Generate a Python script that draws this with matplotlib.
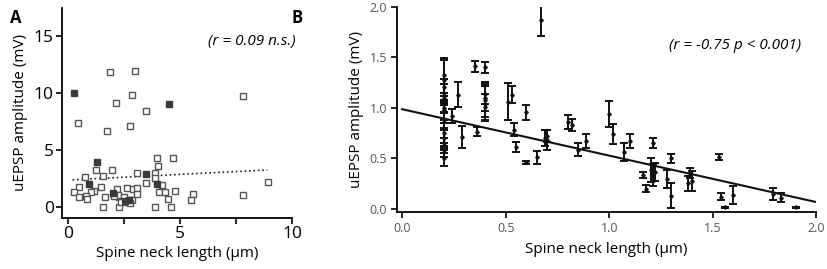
import numpy as np
import matplotlib
matplotlib.use("Agg")
import matplotlib.pyplot as plt

plt.rcParams['font.family'] = ['Open Sans', 'DejaVu Sans']

# panel A: open squares
a_open_x = [1.86, 2.99, 2.87, 2.16, 7.83, 3.5, 0.45, 2.77, 1.76, 3.99, 4.67, 4.03,
            1.25, 1.98, 3.07, 1.55, 0.74, 3.9, 3.87, 3.48, 4.2, 1.46, 0.48, 2.17,
            2.62, 2.92, 3.07, 1.16, 1.04, 0.25, 4.06, 4.35, 4.79, 5.6, 7.83, 8.93,
            0.8, 0.83, 0.48, 1.64, 2.29, 3.07, 2.23, 2.5, 2.74, 2.87, 4.48, 5.48,
            1.56, 2.26, 3.87, 4.58, 2.38, 2.63, 2.77, 2.05]
a_open_y = [11.85, 11.97, 9.82, 9.15, 9.7, 8.44, 7.32, 7.12, 6.62, 4.24, 4.24, 3.53,
            3.18, 3.18, 2.91, 2.7, 2.62, 2.94, 2.5, 2.09, 1.88, 1.76, 1.68, 1.53,
            1.62, 1.56, 1.62, 1.38, 1.24, 1.24, 1.24, 1.24, 1.38, 1.09, 1.0, 2.18,
            0.94, 0.65, 0.8, 0.88, 0.88, 1.12, 1.03, 0.88, 0.59, 0.59, 0.68, 0.59,
            0.0, 0.0, 0.0, 0.0, 0.44, 0.38, 0.29, 0.94]
# panel A: filled squares
a_fill_x = [0.27, 4.51, 1.28, 0.95, 3.48, 3.99, 1.99, 2.55, 2.7]
a_fill_y = [10.0, 9.0, 3.9, 2.0, 2.9, 2.0, 1.18, 0.5, 0.55]
a_fit = (2.33, 0.10)        # intercept, slope
a_fit_range = (0.2, 8.9)
a_text = "(r = 0.09 n.s.)"

# panel B: mean +- error
b_x = [0.2, 0.2, 0.2, 0.2, 0.2, 0.2, 0.2, 0.2, 0.2, 0.2, 0.2, 0.2, 0.2, 0.2,
       0.24, 0.27, 0.29, 0.35, 0.36, 0.4,
       0.4, 0.4, 0.4, 0.4, 0.4,
       0.51, 0.53, 0.6, 0.54, 0.55, 0.6, 0.65, 0.67,
       0.69, 0.7, 0.7, 0.8, 0.82, 0.85, 0.89, 1.0, 1.02, 1.07, 1.1,
       1.21, 1.165, 1.18, 1.2, 1.21, 1.22, 1.3, 1.28, 1.3,
       1.39, 1.38, 1.4, 1.53, 1.54, 1.56, 1.6, 1.79, 1.83, 1.9]
b_y = [1.32, 1.27, 1.2, 1.13, 1.1, 1.0, 0.98, 0.88, 0.75, 0.7, 0.65, 0.6, 0.56, 0.5,
       0.92, 1.13, 0.71, 1.41, 0.76, 1.4,
       1.14, 1.1, 1.08, 1.04, 1.01,
       1.06, 1.13, 0.955, 0.78, 0.615, 0.46, 0.51, 1.87,
       0.7, 0.72, 0.68, 0.86, 0.83, 0.585, 0.67, 0.94, 0.74, 0.565, 0.67,
       0.65, 0.33, 0.195, 0.38, 0.33, 0.36, 0.5, 0.295, 0.13,
       0.35, 0.25, 0.27, 0.51, 0.12, 0.013, 0.135, 0.143, 0.11, 0.013]
b_err = [0.17, 0.2, 0.08, 0.1, 0.05, 0.05, 0.1, 0.08, 0.1, 0.08, 0.05, 0.05, 0.05, 0.08,
         0.07, 0.12, 0.11, 0.055, 0.045, 0.055,
         0.1, 0.13, 0.17, 0.17, 0.13,
         0.18, 0.08, 0.075, 0.065, 0.05, 0.016, 0.065, 0.16,
         0.08, 0.06, 0.1, 0.07, 0.06, 0.065, 0.07, 0.13, 0.1, 0.09, 0.065,
         0.05, 0.03, 0.035, 0.12, 0.11, 0.09, 0.045, 0.09, 0.12,
         0.05, 0.075, 0.1, 0.033, 0.036, 0.004, 0.085, 0.06, 0.04, 0.004]
b_fit = (0.985, -0.46)
b_fit_range = (0.0, 2.0)
b_text = "(r = -0.75 p < 0.001)"

fig = plt.figure(figsize=(8.27, 2.69), dpi=100)
axA = fig.add_axes([0.075, 0.19, 0.278, 0.781])
axB = fig.add_axes([0.48, 0.212, 0.507, 0.763])

for ax in (axA, axB):
    ax.spines['top'].set_visible(False)
    ax.spines['right'].set_visible(False)
    for s in ('left', 'bottom'):
        ax.spines[s].set_linewidth(1.3)
    ax.tick_params(direction='out', length=4, width=1.2)

# ---- A ----
axA.plot(a_open_x, a_open_y, 's', ms=5.0, mfc='white', mec='#555555', mew=1.0,
         linestyle='none', zorder=3)
axA.plot(a_fill_x, a_fill_y, 's', ms=5.0, mfc='#3a3a3a', mec='#3a3a3a', mew=1.0,
         linestyle='none', zorder=4)
xa = np.array(a_fit_range)
axA.plot(xa, a_fit[0] + a_fit[1] * xa, ':', color='#222222', lw=1.2, zorder=2)
axA.set_xlim(-0.27, 10)
axA.set_ylim(-1.0, 17.5)
axA.set_xticks([0, 5, 10])
axA.set_xticks([2.5, 7.5], minor=True)
axA.set_yticks([0, 5, 10, 15])
axA.tick_params(which='minor', direction='out', length=4, width=1.2)
axA.tick_params(labelsize=12.5, pad=2)
axA.set_xlabel("Spine neck length (\u03bcm)", fontsize=11, labelpad=3)
axA.set_ylabel("uEPSP amplitude (mV)", fontsize=11, labelpad=4)
axA.text(1.015, 0.84, a_text, transform=axA.transAxes, ha='right', va='center',
         fontsize=11, style='italic')

# ---- B ----
axB.errorbar(b_x, b_y, yerr=b_err, fmt='D', ms=1.8, color='#111111', ecolor='#111111',
             elinewidth=1.4, capsize=3.2, capthick=1.4, zorder=3)
xb = np.array(b_fit_range)
axB.plot(xb, b_fit[0] + b_fit[1] * xb, '-', color='#111111', lw=1.5, zorder=2)
axB.set_xlim(-0.025, 2.0)
axB.set_ylim(-0.033, 2.0)
axB.set_xticks([0, 0.5, 1.0, 1.5, 2.0])
axB.set_yticks([0, 0.5, 1.0, 1.5, 2.0])
axB.xaxis.set_major_formatter(matplotlib.ticker.FormatStrFormatter('%.1f'))
axB.yaxis.set_major_formatter(matplotlib.ticker.FormatStrFormatter('%.1f'))
axB.tick_params(labelsize=9, labelcolor='#555555', pad=3)
axB.set_xlabel("Spine neck length (\u03bcm)", fontsize=11, labelpad=5)
axB.set_ylabel("uEPSP amplitude (mV)", fontsize=11, labelpad=4)
axB.text(0.965, 0.81, b_text, transform=axB.transAxes, ha='right', va='center',
         fontsize=11, style='italic')

fig.text(0.012, 0.965, "A", fontsize=12, fontweight='bold', va='top')
fig.text(0.352, 0.965, "B", fontsize=12, fontweight='bold', va='top')

fig.savefig("out.png", dpi=100)
